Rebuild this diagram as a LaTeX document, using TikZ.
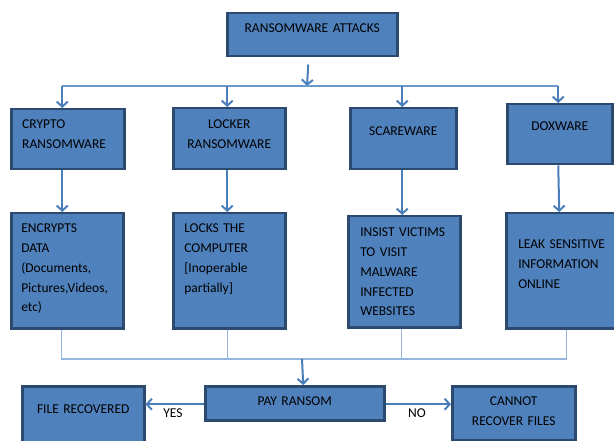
\documentclass[tikz,border=0pt]{standalone}
\usepackage{fontspec}
\setmainfont{Carlito}
\usetikzlibrary{arrows.meta}
\definecolor{boxfill}{HTML}{4F81BD}
\definecolor{boxline}{HTML}{2C4A70}
\definecolor{arrowblue}{HTML}{4A7EBB}
\definecolor{busblue}{HTML}{6A98CF}
\definecolor{linkblue}{HTML}{95B6DF}

\begin{document}
\begin{tikzpicture}[x=1pt, y=-1pt,
    box/.style={draw=boxline, line width=2.5pt, fill=boxfill, inner ysep=0pt,
        anchor=north west, font=\fontsize{13.5}{19.8}\selectfont},
    arr/.style={draw=arrowblue, line width=2pt, -{Straight Barb[length=5pt,width=11pt]}},
    bus/.style={draw=busblue, line width=1.3pt},
    link/.style={draw=linkblue, line width=1.5pt},
    tag/.style={inner sep=0pt, font=\fontsize{13.5}{19.8}\selectfont}]
    \useasboundingbox (0,0) rectangle (614,441);

    \node[box, align=center, inner xsep=5pt, text width=160pt, text height=19.5pt, text depth=23.5pt]
        (attacks) at (226,12) {RANSOMWARE ATTACKS};

    \node[box, align=left, inner xsep=11pt, text width=91pt, text height=19.5pt, text depth=40.5pt]
        (crypto) at (10,108) {CRYPTO\\RANSOMWARE};
    \node[box, align=center, inner xsep=5pt, text width=102pt, text height=20pt, text depth=41pt]
        (locker) at (172,107) {LOCKER\\RANSOMWARE};
    \node[box, align=center, inner xsep=5pt, text width=96pt, text height=27.5pt, text depth=33.5pt]
        (scare) at (349,107) {SCAREWARE};
    \node[box, align=center, inner xsep=5pt, text width=95pt, text height=26.5pt, text depth=33.5pt]
        (dox) at (506,103) {DOXWARE};

    \node[box, align=left, inner xsep=10pt, text width=92pt, text height=19.5pt, text depth=95.5pt]
        (encrypt) at (10,212) {ENCRYPTS\\DATA\\(Documents,\\Pictures,Videos,\\etc)};
    \node[box, align=left, inner xsep=11pt, text width=90pt, text height=19.5pt, text depth=95.5pt]
        (locks) at (172,212) {LOCKS THE\\COMPUTER\\{[}Inoperable\\partially]};
    \node[box, align=left, inner xsep=12pt, text width=88pt, text height=20.5pt, text depth=90.5pt]
        (insist) at (347,215) {INSIST VICTIMS\\TO VISIT\\MALWARE\\INFECTED\\WEBSITES};
    \node[box, align=left, inner xsep=12pt, text width=92pt, text height=35.5pt, text depth=79.5pt]
        (leak) at (505,212) {LEAK SENSITIVE\\INFORMATION\\ONLINE};

    \node[box, align=center, inner xsep=5pt, text width=169pt, text height=19.5pt, text depth=14.5pt]
        (pay) at (204,385) {PAY RANSOM};
    \node[box, align=center, inner xsep=5pt, text width=112pt, text height=27.5pt, text depth=32.5pt]
        (recovered) at (21,385) {FILE RECOVERED};
    \node[box, align=center, inner xsep=5pt, text width=113pt, text height=19.5pt, text depth=34.5pt]
        (cannot) at (451,385) {CANNOT\\RECOVER FILES};

    \coordinate (split) at (307,86);
    \coordinate (merge) at (302,359);

    \draw[arr] ([xshift=-4pt,yshift=-7pt]attacks.south) -- (split);
    \draw[bus] ([xshift=-5.5pt]crypto.north |- split) -- ([xshift=-1.5pt]dox.north |- split);
    \foreach \b/\s in {crypto/-5.5, locker/-2, scare/-1, dox/-1.5}
        \draw[arr] ([xshift=\s pt]\b.north |- split) -- ([xshift=\s pt]\b.north);

    \draw[arr] ([xshift=-5.5pt]crypto.south) -- ([xshift=-5pt]encrypt.north);
    \draw[arr] ([xshift=-2pt]locker.south) -- ([xshift=-2pt]locks.north);
    \draw[arr] ([xshift=-1pt]scare.south) -- ([xshift=-2pt]insist.north);
    \draw[arr] ([xshift=-1.5pt]dox.south) -- ([xshift=-5pt]leak.north);

    \draw[link] ([xshift=-6pt]encrypt.south) |- (merge) -| ([xshift=2pt]leak.south);
    \draw[link] ([xshift=-2pt]locks.south) -- ([xshift=-2pt]locks.south |- merge);
    \draw[link] ([xshift=-3pt]insist.south) -- ([xshift=-3pt]insist.south |- merge);
    \draw[arr] (merge) -- ([xshift=8.5pt]pay.north);

    \draw[arr] ([yshift=-1pt]pay.west) -- ([yshift=-1pt]pay.west -| recovered.east);
    \draw[arr] ([yshift=-1pt]pay.east) -- ([yshift=-1pt]pay.east -| cannot.west);
    \node[tag] (yes) at (173,413) {YES};
    \node[tag] (no) at (417,413) {NO};
\end{tikzpicture}
\end{document}
